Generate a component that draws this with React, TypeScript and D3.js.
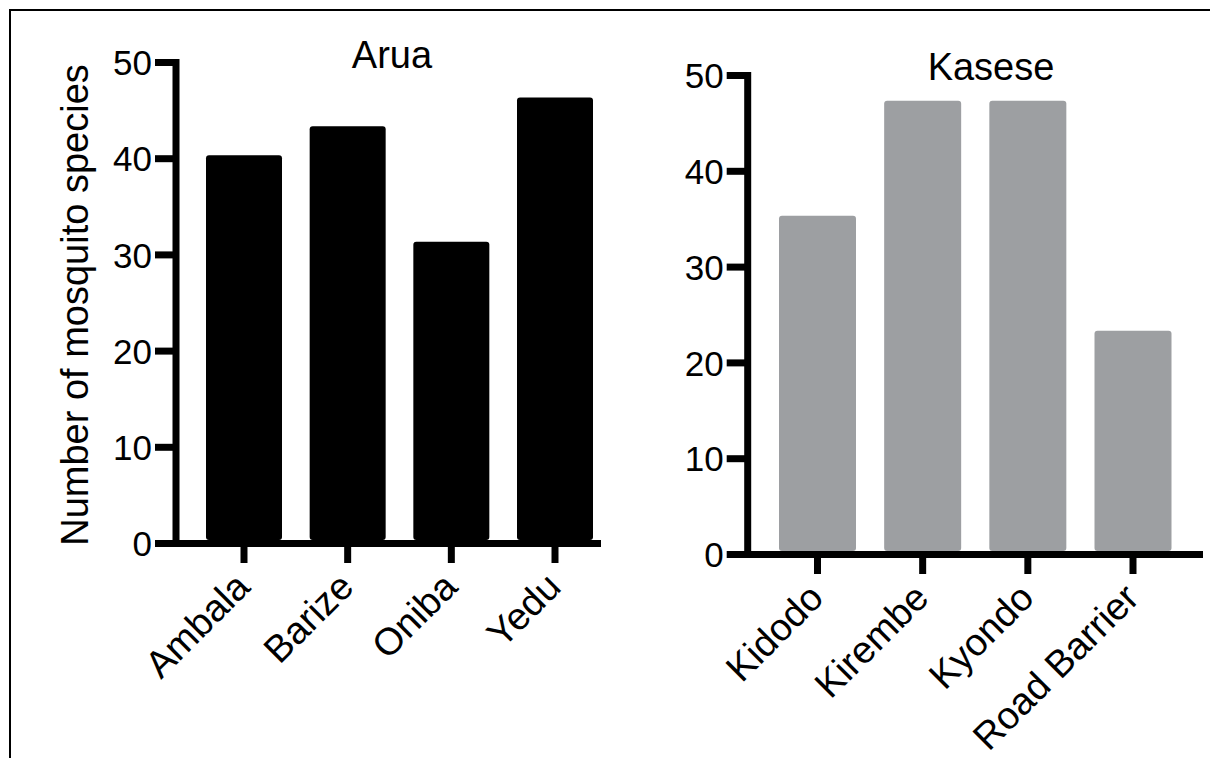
import { useEffect, useRef } from 'react';
import * as d3 from 'd3';

// Arua sites
const aruaSites = ['Ambala', 'Barize', 'Oniba', 'Yedu'];
const aruaCounts = [40, 43, 31, 46];

// Kasese sites
const kaseseSites = ['Kidodo', 'Kirembe', 'Kyondo', 'Road Barrier'];
const kaseseCounts = [35, 47, 47, 23];

const yTicks = [0, 10, 20, 30, 40, 50];
const yLabel = 'Number of mosquito species';

type Panel = {
    title: string;
    sites: string[];
    counts: number[];
    color: string;
    axisX: number;
    yRange: [number, number];
    xRange: [number, number];
    axisEnd: number;
    barWidth: number;
    titleX: number;
    titleY: number;
};

const panels: Panel[] = [
    {
        title: 'Arua', sites: aruaSites, counts: aruaCounts, color: '#000',
        axisX: 176, yRange: [540, 59], xRange: [244, 555], axisEnd: 601,
        barWidth: 76, titleX: 392, titleY: 68,
    },
    {
        title: 'Kasese', sites: kaseseSites, counts: kaseseCounts, color: '#9d9fa2',
        axisX: 747.7, yRange: [551, 72], xRange: [817.5, 1133], axisEnd: 1203,
        barWidth: 77, titleX: 991, titleY: 80,
    },
];

const FONT = '"Liberation Sans", Arial, sans-serif';

const App: React.FC = () => {
    const svgRef = useRef<SVGSVGElement | null>(null);

    useEffect(() => {
        if (!svgRef.current) return;
        const svg = d3.select(svgRef.current);
        svg.selectAll('*').remove();

        const width = 1210;
        const height = 758;
        const lw = 7; // axis stroke

        svg.append('rect')
            .attr('width', width).attr('height', height).attr('fill', '#fff');

        // frame (right/bottom edge cropped off)
        svg.append('rect')
            .attr('x', 10).attr('y', 10)
            .attr('width', 1400).attr('height', 1000)
            .attr('fill', 'none').attr('stroke', '#000').attr('stroke-width', 2);

        panels.forEach(p => {
            const y = d3.scaleLinear().domain([0, 50]).range(p.yRange);
            const x = d3.scalePoint<string>().domain(p.sites).range(p.xRange);
            const base = y(0);
            const g = svg.append('g');

            // bars
            g.selectAll('rect.bar')
                .data(p.counts)
                .join('rect')
                .attr('class', 'bar')
                .attr('x', (d, i) => (x(p.sites[i]) as number) - p.barWidth / 2)
                .attr('y', d => y(d))
                .attr('width', p.barWidth)
                .attr('height', d => base - y(d))
                .attr('rx', 3)
                .attr('fill', p.color);

            // y axis line
            g.append('line')
                .attr('x1', p.axisX).attr('x2', p.axisX)
                .attr('y1', y(50)).attr('y2', base + lw)
                .attr('stroke', '#000').attr('stroke-width', lw);

            // x axis line
            g.append('line')
                .attr('x1', p.axisX - lw / 2).attr('x2', p.axisEnd)
                .attr('y1', base + lw / 2).attr('y2', base + lw / 2)
                .attr('stroke', '#000').attr('stroke-width', lw);

            // y ticks + labels
            const yt = g.selectAll('g.ytick')
                .data(yTicks)
                .join('g')
                .attr('class', 'ytick')
                .attr('transform', d => `translate(0,${y(d) + lw / 2})`);
            yt.append('line')
                .attr('x1', p.axisX - 21).attr('x2', p.axisX)
                .attr('stroke', '#000').attr('stroke-width', lw);
            yt.append('text')
                .attr('x', p.axisX - 24)
                .attr('dy', '0.36em')
                .attr('text-anchor', 'end')
                .attr('font-family', FONT)
                .attr('font-size', 35)
                .text(d => d);

            // x ticks + labels
            const xt = g.selectAll('g.xtick')
                .data(p.sites)
                .join('g')
                .attr('class', 'xtick')
                .attr('transform', d => `translate(${x(d)},${base + lw})`);
            xt.append('line')
                .attr('y1', 0).attr('y2', 16)
                .attr('stroke', '#000').attr('stroke-width', lw);
            xt.append('text')
                .attr('transform', 'translate(8,42) rotate(-45)')
                .attr('text-anchor', 'end')
                .attr('font-family', FONT)
                .attr('font-size', 38)
                .text(d => d);

            // panel title
            g.append('text')
                .attr('x', p.titleX).attr('y', p.titleY)
                .attr('text-anchor', 'middle')
                .attr('font-family', FONT)
                .attr('font-size', 38)
                .text(p.title);
        });

        // shared y-axis title
        svg.append('text')
            .attr('transform', 'translate(88,305) rotate(-90)')
            .attr('text-anchor', 'middle')
            .attr('font-family', FONT)
            .attr('font-size', 38)
            .text(yLabel);
    }, []);

    return (
        <svg ref={svgRef} width="1210" height="758"
            style={{ position: 'absolute', left: 0, top: 0 }}></svg>
    );
};

export default App;
